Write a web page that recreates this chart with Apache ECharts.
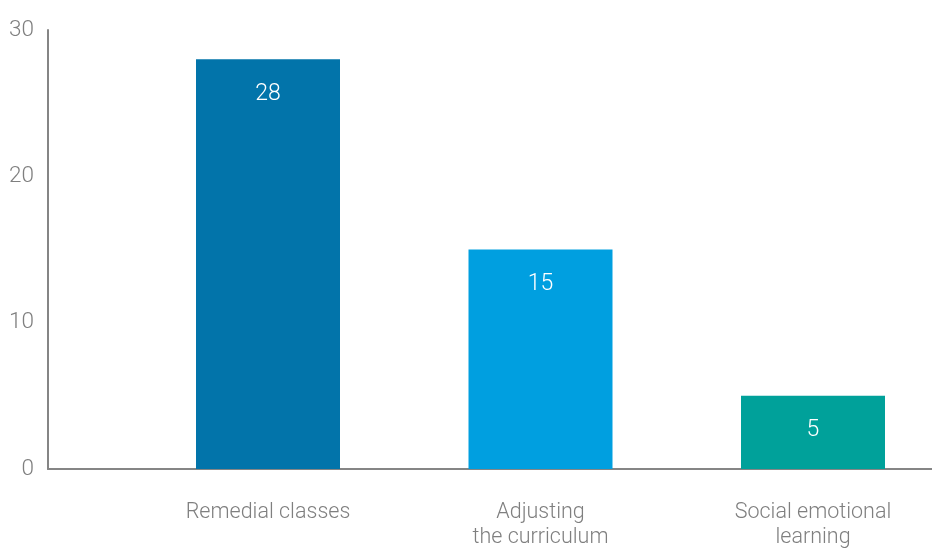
<!DOCTYPE html>
<html>
<head>
<meta charset="utf-8">
<script src="https://cdn.jsdelivr.net/npm/echarts@6/dist/echarts.min.js"></script>
<style>html,body{margin:0;padding:0;background:#fff}#c{width:932px;height:551px}</style>
</head>
<body>
<div id="c"></div>
<script>
const categories = ['Remedial classes', 'Adjusting\nthe curriculum', 'Social emotional\nlearning'];
const values = [28, 15, 5];
const barColors = ['#0274AA', '#009FE0', '#00A19A'];
const yTicks = [0, 10, 20, 30];

const FONT = "Roboto, sans-serif";
const chart = echarts.init(document.getElementById('c'), null, {renderer: 'canvas'});
chart.setOption({
  animation: false,
  grid: [
    {left: 48, width: 884, top: 30, bottom: 82, containLabel: false},
    {left: 268, width: 545, top: 30, bottom: 82, containLabel: false}
  ],
  xAxis: [
    {gridIndex: 0, type: 'category', data: [''], axisLine: {lineStyle: {color: '#858585', width: 2}},
     axisTick: {show: false}, axisLabel: {show: false}},
    {gridIndex: 1, type: 'category', data: categories, boundaryGap: false,
     axisLine: {show: false}, axisTick: {show: false},
     axisLabel: {color: '#7f7f7f', fontFamily: FONT, fontWeight: 300, fontSize: 21.5, lineHeight: 25, margin: 31, interval: 0}}
  ],
  yAxis: [
    {gridIndex: 0, type: 'value', min: yTicks[0], max: yTicks[yTicks.length - 1], interval: 10,
     axisLine: {show: true, lineStyle: {color: '#858585', width: 2}}, axisTick: {show: false},
     splitLine: {show: false},
     axisLabel: {color: '#7f7f7f', fontFamily: FONT, fontWeight: 300, fontSize: 22.5, margin: 14}},
    {gridIndex: 1, type: 'value', min: yTicks[0], max: yTicks[yTicks.length - 1], interval: 10,
     show: false, splitLine: {show: false}}
  ],
  series: [{
    type: 'bar', xAxisIndex: 1, yAxisIndex: 1, barWidth: 144, clip: false,
    data: values.map((v, i) => ({value: v, itemStyle: {color: barColors[i]}})),
    label: {show: true, position: 'insideTop', distance: 23, color: '#fff', fontFamily: FONT, fontWeight: 300, fontSize: 23}
  }]
});
</script>
</body>
</html>
